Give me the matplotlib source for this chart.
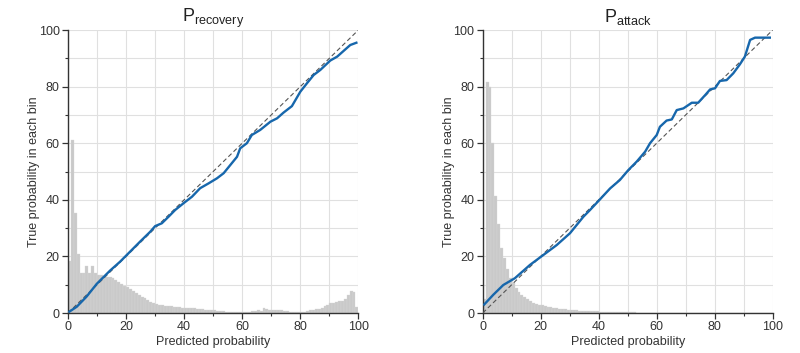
import numpy as np
import matplotlib
matplotlib.use("Agg")
import matplotlib.pyplot as plt
from matplotlib.ticker import MultipleLocator

plt.rcParams['font.family'] = ['Liberation Sans', 'DejaVu Sans']
plt.rcParams['mathtext.default'] = 'regular'

# histogram of predicted probabilities (1-wide bins, 0..100), in % of max scale
rec_hist = [18.5, 61, 35.5, 21, 14, 14, 16.5, 14, 16.5, 14,
            13.5, 13.3, 13, 12.8, 12.6, 12.3, 11.8, 11, 10.3, 9.7,
            9.2, 8.5, 7.8, 7, 6.3, 5.7, 5.2, 4.6, 4.0, 3.5,
            3.2, 2.9, 2.7, 2.5, 2.4, 2.3, 2.2, 2.1, 2.0, 1.9,
            1.8, 1.8, 1.7, 1.6, 1.5, 1.4, 1.3, 1.2, 1.1, 1.0,
            0.9, 0.8, 0.7, 0.6, 0.5, 0.5, 0.5, 0.5, 0.5, 0.5,
            0.5, 0.5, 0.5, 0.6, 0.6, 1.1, 0.8, 1.7, 1.5, 1.2,
            1.1, 1.2, 1.1, 1.0, 0.8, 0.6, 0.5, 0.5, 0.5, 0.5,
            0.4, 0.5, 0.7, 1.0, 1.1, 1.3, 1.5, 1.7, 2.3, 3.0,
            3.4, 3.6, 4.0, 4.1, 4.2, 4.8, 6.4, 7.8, 7.5, 2.2]

att_hist = [5, 81.5, 80, 60, 41.5, 31.5, 23, 19.5, 15.5, 12.5,
            10.5, 9, 7.5, 6.5, 5.5, 4.8, 4.2, 3.7, 3.3, 3.0,
            2.7, 2.4, 2.2, 2.0, 1.8, 1.6, 1.5, 1.4, 1.3, 1.2,
            1.1, 1.0, 0.9, 0.85, 0.8, 0.75, 0.7, 0.65, 0.6, 0.55,
            0.5, 0.45, 0.4, 0.38, 0.35, 0.32, 0.3, 0.28, 0.26, 0.24,
            0.22, 0.2, 0.18, 0.16, 0.15, 0.14, 0.13, 0.12, 0.11, 0.1,
            0.1, 0.09, 0.08, 0.07, 0.06, 0.05, 0.05, 0.04, 0.04, 0.03,
            0.03, 0.02, 0.02, 0.02, 0.02, 0.01, 0.01, 0.01, 0.01, 0.01,
            0, 0, 0, 0, 0, 0, 0, 0, 0, 0,
            0, 0, 0, 0, 0, 0, 0, 0, 0, 0]

# calibration curves
rec_x = [0.5, 3.0, 6.4, 9.9, 14.5, 17.9, 21.4, 24.8, 28.3, 30.0, 32.3, 34.6, 36.9,
         39.8, 42.7, 45.5, 48.4, 51.3, 53.6, 55.9, 58.2, 59.3, 61.6, 63.3, 66.2,
         69.7, 72.0, 74.2, 77.1, 80.0, 82.3, 84.6, 86.9, 90.3, 92.7, 95.0, 97.2, 99.3]
rec_y = [0.5, 2.2, 5.8, 10.3, 15.0, 18.1, 21.7, 25.2, 28.7, 30.7, 31.7, 34.0, 36.4,
         38.8, 41.1, 44.1, 45.8, 47.6, 49.4, 52.3, 55.2, 58.2, 60.0, 62.9, 64.7,
         67.6, 68.8, 70.8, 73.1, 78.2, 81.2, 84.1, 85.9, 89.2, 90.6, 92.7, 94.7, 95.5]

att_x = [0.5, 3.7, 7.1, 11.1, 16.3, 20.9, 25.5, 30.1, 34.7, 37.0, 40.2, 43.9, 47.3,
         50.2, 53.1, 56.0, 57.7, 60.0, 61.1, 63.4, 65.2, 66.9, 69.2, 72.1, 74.3,
         76.7, 78.4, 80.1, 81.8, 84.1, 86.4, 88.7, 90.4, 92.2, 93.9, 99.0]
att_y = [3.0, 6.5, 9.9, 12.3, 17.0, 20.5, 24.0, 28.2, 34.0, 36.4, 39.9, 44.0, 47.0,
         50.5, 53.5, 57.0, 60.0, 62.9, 65.8, 68.0, 68.4, 71.7, 72.3, 74.3, 74.3,
         77.0, 79.0, 79.4, 82.0, 82.3, 84.7, 87.9, 90.6, 96.5, 97.3, 97.3]

bins = np.arange(100)

fig = plt.figure(figsize=(8.0, 3.53), dpi=100)
ax1 = fig.add_axes([0.085, 0.1133, 0.363, 0.8017])
ax2 = fig.add_axes([0.6034, 0.1133, 0.3625, 0.8017])


def draw(ax, hist, cx, cy, sub):
    ax.bar(bins, hist, width=1.0, align='edge', color='#c9c9c9',
           edgecolor='#d8d8d8', linewidth=0.25, zorder=2)
    ax.plot([0, 100], [0, 100], color='#555555', linestyle=(0, (4, 2.5)),
            linewidth=0.8, zorder=3)
    ax.plot(cx, cy, color='#1767ac', linewidth=1.7, zorder=4)
    ax.set_xlim(0, 100)
    ax.set_ylim(0, 100)
    ax.xaxis.set_major_locator(MultipleLocator(20))
    ax.xaxis.set_minor_locator(MultipleLocator(10))
    ax.yaxis.set_major_locator(MultipleLocator(20))
    ax.yaxis.set_minor_locator(MultipleLocator(10))
    ax.grid(True, which='both', color='#e0e0e0', linewidth=0.8, zorder=0)
    ax.set_axisbelow(True)
    for s in ['top', 'right']:
        ax.spines[s].set_visible(False)
    for s in ['left', 'bottom']:
        ax.spines[s].set_color('#333333')
        ax.spines[s].set_linewidth(1.0)
    ax.tick_params(which='major', length=4, width=0.9, color='#333333',
                   labelsize=9, labelcolor='#333333', pad=2)
    ax.tick_params(which='minor', length=2.5, width=0.8, color='#333333')
    ax.set_xlabel('Predicted probability', fontsize=9, color='#333333', labelpad=2)
    ax.set_ylabel('True probability in each bin', fontsize=9, color='#333333', labelpad=-1)
    ax.set_title('P$_{' + sub + '}$', fontsize=13, color='#222222', pad=6)


draw(ax1, rec_hist, rec_x, rec_y, 'recovery')
draw(ax2, att_hist, att_x, att_y, 'attack')

fig.savefig('out.png', dpi=100)
